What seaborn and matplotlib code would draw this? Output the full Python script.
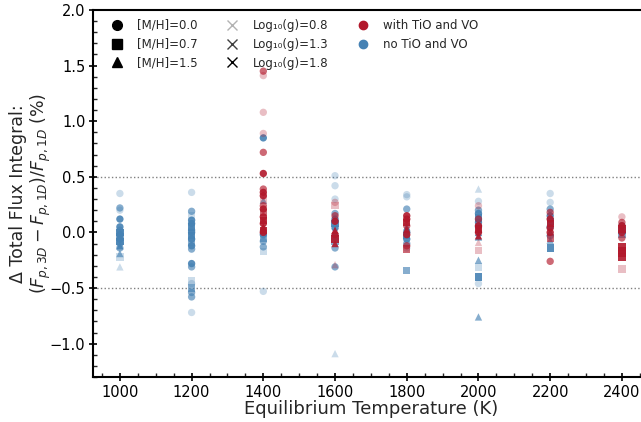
import matplotlib
matplotlib.use("Agg")
import matplotlib.pyplot as plt
from matplotlib.lines import Line2D
from matplotlib.ticker import MultipleLocator
import seaborn as sns
import pandas as pd

# ---- data: (delta %, [M/H], log g) per temperature, with / without TiO & VO ----
no_1000 = [(0.35, 0.0, 0.8), (0.22, 0.0, 1.3), (0.20, 0.0, 0.8), (0.12, 0.0, 1.8), (0.05, 0.0, 1.8),
           (0.02, 0.0, 1.3), (0.00, 0.7, 1.8), (-0.02, 0.0, 1.8), (-0.04, 0.7, 1.3), (-0.06, 0.0, 1.8),
           (-0.08, 0.7, 1.8), (-0.10, 0.0, 1.3), (-0.12, 1.5, 1.8), (-0.14, 0.0, 1.3), (-0.19, 1.5, 1.3),
           (-0.22, 0.7, 0.8), (-0.31, 1.5, 0.8)]
no_1200 = [(0.36, 0.0, 0.8), (0.19, 0.0, 1.3), (0.15, 0.7, 0.8), (0.11, 0.0, 1.8), (0.08, 0.0, 1.8),
           (0.05, 0.7, 1.8), (0.02, 0.0, 1.3), (0.00, 0.0, 1.8), (-0.03, 0.7, 1.8), (-0.06, 0.0, 1.8),
           (-0.09, 0.7, 1.3), (-0.12, 0.0, 1.8), (-0.15, 0.0, 1.3), (-0.28, 0.0, 1.8), (-0.31, 0.0, 1.3),
           (-0.43, 0.7, 0.8), (-0.46, 0.0, 0.8), (-0.50, 0.7, 1.3), (-0.54, 0.0, 1.3), (-0.58, 0.0, 1.3),
           (-0.72, 0.0, 0.8)]
no_1400 = [(0.85, 0.0, 1.8), (0.29, 1.5, 1.3), (0.04, 1.5, 1.3), (-0.02, 0.0, 1.8), (-0.05, 0.7, 1.3),
           (-0.08, 0.0, 1.3), (-0.13, 0.0, 1.3), (-0.17, 0.7, 0.8), (-0.53, 0.0, 0.8)]
tio_1400 = [(1.45, 0.0, 1.3), (1.41, 0.0, 0.8), (1.08, 0.0, 0.8), (0.89, 0.0, 0.8), (0.72, 0.0, 1.3),
            (0.53, 0.0, 1.8), (0.39, 0.0, 1.3), (0.36, 0.0, 1.8), (0.33, 0.0, 1.8), (0.29, 0.7, 0.8),
            (0.24, 0.0, 1.3), (0.21, 0.0, 1.8), (0.18, 0.7, 1.3), (0.14, 0.0, 1.8), (0.11, 0.7, 1.8),
            (0.08, 0.0, 1.8), (0.05, 1.5, 1.8), (0.02, 0.7, 1.8), (0.00, 0.0, 1.8)]
no_1600 = [(0.51, 0.0, 0.8), (0.42, 0.0, 0.8), (0.30, 0.0, 0.8), (0.17, 0.0, 1.3), (0.12, 0.0, 1.8),
           (0.08, 0.7, 1.8), (0.04, 0.0, 1.8), (0.00, 1.5, 1.8), (-0.04, 0.0, 1.3), (-0.08, 0.7, 1.3),
           (-0.14, 0.0, 1.3), (-0.31, 0.0, 1.3), (-1.09, 1.5, 0.8)]
tio_1600 = [(0.27, 0.0, 0.8), (0.24, 0.7, 0.8), (0.15, 0.0, 1.3), (0.10, 0.0, 1.8), (0.02, 1.5, 1.8),
            (-0.02, 0.0, 1.8), (-0.06, 0.7, 1.8), (-0.10, 1.5, 1.8), (-0.29, 1.5, 0.8)]
no_1800 = [(0.34, 0.0, 0.8), (0.32, 0.0, 0.8), (0.21, 0.0, 1.3), (0.05, 1.5, 1.8), (0.00, 0.0, 1.8),
           (-0.03, 0.7, 1.8), (-0.06, 0.0, 1.8), (-0.10, 0.0, 1.3), (-0.14, 0.0, 0.8), (-0.34, 0.7, 1.3)]
tio_1800 = [(0.15, 0.0, 1.8), (0.12, 0.0, 1.8), (0.09, 0.7, 1.8), (0.06, 0.0, 1.3), (0.03, 1.5, 1.8),
            (-0.02, 0.0, 1.8), (-0.12, 0.0, 1.3), (-0.15, 0.7, 1.3)]
no_2000 = [(0.39, 1.5, 0.8), (0.28, 0.0, 0.8), (0.20, 0.0, 1.3), (0.17, 0.0, 1.8), (0.13, 0.7, 1.8),
           (0.09, 0.0, 1.8), (0.05, 0.0, 1.3), (0.00, 1.5, 1.8), (-0.04, 1.5, 1.8), (-0.25, 1.5, 1.3),
           (-0.31, 0.7, 0.8), (-0.40, 0.7, 1.8), (-0.46, 0.0, 0.8), (-0.76, 1.5, 1.3)]
tio_2000 = [(0.24, 0.0, 0.8), (0.12, 0.0, 1.3), (0.06, 0.0, 1.8), (0.03, 0.7, 1.8), (0.00, 0.0, 1.8),
            (-0.03, 1.5, 1.8), (-0.09, 1.5, 0.8), (-0.16, 0.7, 0.8)]
no_2200 = [(0.35, 0.0, 0.8), (0.27, 0.0, 0.8), (0.21, 0.0, 1.3), (0.15, 0.0, 1.8), (0.10, 0.7, 1.8),
           (0.05, 0.0, 1.8), (0.00, 1.5, 1.8), (-0.03, 0.0, 1.3), (-0.07, 1.5, 1.3), (-0.14, 0.7, 1.8)]
tio_2200 = [(0.18, 0.0, 1.3), (0.12, 0.0, 1.8), (0.08, 0.7, 1.8), (0.04, 0.0, 1.8), (0.00, 0.0, 1.8),
            (-0.05, 0.7, 1.3), (-0.26, 0.0, 1.3)]
no_2400 = [(0.06, 0.0, 1.3), (0.02, 0.7, 1.8), (-0.02, 0.7, 1.3)]
tio_2400 = [(0.14, 0.0, 0.8), (0.09, 0.0, 1.3), (0.06, 0.0, 1.8), (0.03, 0.7, 1.8), (0.00, 0.0, 1.8),
            (-0.05, 0.0, 1.3), (-0.13, 0.7, 1.8), (-0.16, 0.7, 1.8), (-0.19, 0.7, 1.8), (-0.22, 0.7, 1.8),
            (-0.33, 0.7, 0.8)]

temperatures = [1000, 1200, 1400, 1600, 1800, 2000, 2200, 2400]
groups = [
    (1000, "no", no_1000), (1200, "no", no_1200), (1400, "no", no_1400), (1400, "with", tio_1400),
    (1600, "no", no_1600), (1600, "with", tio_1600), (1800, "no", no_1800), (1800, "with", tio_1800),
    (2000, "no", no_2000), (2000, "with", tio_2000), (2200, "no", no_2200), (2200, "with", tio_2200),
    (2400, "no", no_2400), (2400, "with", tio_2400),
]
metallicities = [0.0, 0.7, 1.5]
gravities = [0.8, 1.3, 1.8]

rows = []
for T, tio, recs in groups:
    for d, mh, g in recs:
        rows.append({"Teq": T, "delta": d, "mh": mh, "logg": g, "tio": tio})
df = pd.DataFrame(rows)

RED = "#b2182b"
BLUE = "#4682b4"
palette = {"with": RED, "no": BLUE}
markers = {0.0: "o", 0.7: "s", 1.5: "^"}
alphas = {0.8: 0.28, 1.3: 0.65, 1.8: 0.9}

sns.set_style("ticks")
plt.rcParams["font.family"] = ["DejaVu Sans"]

fig = plt.figure(figsize=(6.41, 4.22), dpi=100)
W, H = 641, 422
x0, x1 = 925, 2475
scale = (622 - 120) / 1400.0
ax = fig.add_axes([93 / W, 45 / H, (x1 - x0) * scale / W, 367 / H])

for tio in ["no", "with"]:
    for g in gravities:
        sub = df[(df.tio == tio) & (df.logg == g)]
        if len(sub) == 0:
            continue
        sns.scatterplot(data=sub, x="Teq", y="delta", hue="tio", palette=palette,
                        style="mh", markers=markers, alpha=alphas[g], s=28,
                        linewidth=0, legend=False, ax=ax)

ax.axhline(0.5, ls=":", color="grey", lw=1.0, zorder=0)
ax.axhline(-0.5, ls=":", color="grey", lw=1.0, zorder=0)

ax.set_xlim(x0, x1)
ax.set_ylim(-1.3, 2.0)
ax.set_xticks(temperatures)
ax.xaxis.set_minor_locator(MultipleLocator(50))
ax.yaxis.set_major_locator(MultipleLocator(0.5))
ax.yaxis.set_minor_locator(MultipleLocator(0.1))
ax.tick_params(which="major", direction="inout", length=6, width=1.2, labelsize=10.5, colors="k", pad=2.5)
ax.tick_params(which="minor", direction="in", length=3, width=1.0)
for sp in ["left", "bottom", "top"]:
    ax.spines[sp].set_linewidth(1.5)
    ax.spines[sp].set_color("k")
ax.spines["right"].set_visible(False)

ax.set_xlabel("Equilibrium Temperature (K)", fontsize=13, labelpad=0)
ax.set_ylabel("\u0394 Total Flux Integral:\n$(F_{p,3D} - F_{p,1D})/F_{p,1D}$ (%)", fontsize=12.5,
              linespacing=1.1)
ax.yaxis.set_label_coords(-0.072, 0.5)

handles = [
    Line2D([], [], marker="o", color="k", ls="", markersize=7, label="[M/H]=0.0"),
    Line2D([], [], marker="s", color="k", ls="", markersize=7, label="[M/H]=0.7"),
    Line2D([], [], marker="^", color="k", ls="", markersize=7, label="[M/H]=1.5"),
    Line2D([], [], marker="x", color="k", ls="", markersize=7, alpha=0.3, label="Log\u2081\u2080(g)=0.8"),
    Line2D([], [], marker="x", color="k", ls="", markersize=7, alpha=0.75, label="Log\u2081\u2080(g)=1.3"),
    Line2D([], [], marker="x", color="k", ls="", markersize=7, alpha=1.0, label="Log\u2081\u2080(g)=1.8"),
    Line2D([], [], marker="o", color=RED, ls="", markersize=6, label="with TiO and VO"),
    Line2D([], [], marker="o", color=BLUE, ls="", markersize=6, label="no TiO and VO"),
]
ax.legend(handles=handles, ncol=3, loc="upper left", bbox_to_anchor=(0.013, 1.005),
          frameon=False, fontsize=8.5, handlelength=1.0, handletextpad=1.25,
          columnspacing=2.4, labelspacing=0.5)

fig.savefig("out.png", dpi=100)
